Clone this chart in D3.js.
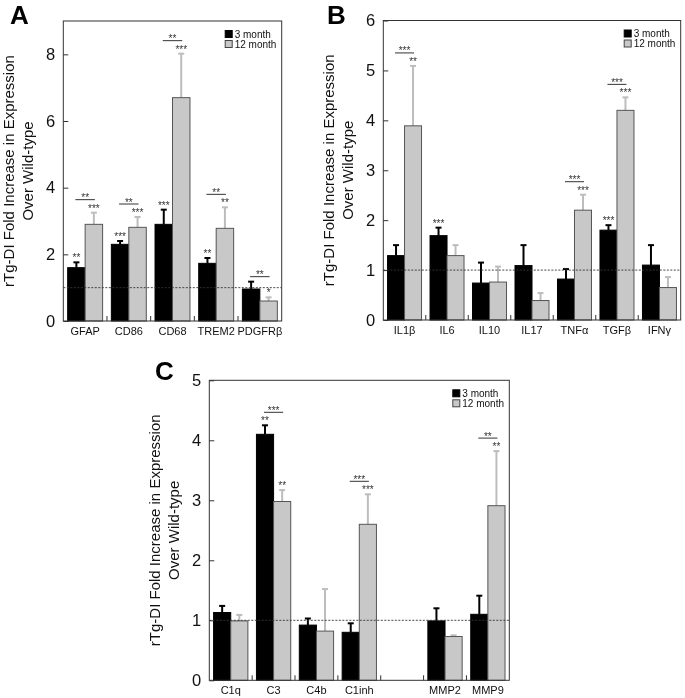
<!DOCTYPE html>
<html><head><meta charset="utf-8">
<script src="https://cdn.jsdelivr.net/npm/d3@7"></script>
<style>body{margin:0;background:#fff} svg{display:block; will-change: transform;}</style>
</head><body>
<svg id="chart" width="685" height="698"></svg>
<script>
// ---------- DATA ----------
const seriesNames = ["3 month", "12 month"];
const yTitle = ["rTg-DI Fold Increase in Expression", "Over Wild-type"];

// Panel A
const catsA = ["GFAP", "CD86", "CD68", "TREM2", "PDGFRβ"];
const meanA3 = [1.6, 2.3, 2.9, 1.73, 0.96];
const semA3 = [0.16, 0.1, 0.44, 0.16, 0.22];
const meanA12 = [2.9, 2.81, 6.7, 2.78, 0.6];
const semA12 = [0.35, 0.31, 1.32, 0.63, 0.11];
const starsA3 = ["**", "***", "***", "**", ""];
const starsA12 = ["***", "***", "***", "**", "*"];
const bracketA = ["**", "**", "**", "**", "**"];
const ticksA = [0, 2, 4, 6, 8];

// Panel B
const catsB = ["IL1β", "IL6", "IL10", "IL17", "TNFα", "TGFβ", "IFNγ"];
const meanB3 = [1.29, 1.69, 0.74, 1.09, 0.82, 1.8, 1.1];
const semB3 = [0.21, 0.16, 0.41, 0.41, 0.2, 0.1, 0.4];
const meanB12 = [3.89, 1.29, 0.76, 0.39, 2.2, 4.2, 0.65];
const semB12 = [1.2, 0.21, 0.31, 0.15, 0.31, 0.26, 0.21];
const starsB3 = ["", "***", "", "", "", "***", ""];
const starsB12 = ["**", "", "", "", "***", "***", ""];
const bracketB = ["***", "", "", "", "***", "***", ""];
const ticksB = [0, 1, 2, 3, 4, 5, 6];

// Panel C
const catsC = ["C1q", "C3", "C4b", "C1inh", "", "MMP2", "MMP9"];
const meanC3 = [1.13, 4.1, 0.92, 0.8, null, 0.99, 1.1];
const semC3 = [0.11, 0.15, 0.11, 0.15, null, 0.21, 0.31];
const meanC12 = [0.99, 2.98, 0.82, 2.6, null, 0.73, 2.91];
const semC12 = [0.1, 0.19, 0.7, 0.5, null, 0.02, 0.91];
const starsC3 = ["", "**", "", "", "", "", ""];
const starsC12 = ["", "**", "", "***", "", "", "**"];
const bracketC = ["", "***", "", "***", "", "", "**"];
const ticksC = [0, 1, 2, 3, 4, 5];

const referenceLevel = 1;

// ---------- DRAW ----------
const FONT = "'Liberation Sans', Arial, Helvetica, sans-serif";
const svg = d3.select("#chart").attr("font-family", FONT);

function drawPanel(p) {
  const g = svg.append("g");
  const x = d3.scaleBand().domain(d3.range(p.cats.length)).range([p.left, p.right]);
  const y = d3.scaleLinear().domain([0, p.yMax]).range([p.bottom, p.top]);
  const bw = x.bandwidth();
  const barW = bw * 0.4;
  const x3 = i => x(i) + bw * 0.1;
  const x12 = i => x(i) + bw * 0.5;

  const yAxis = d3.axisLeft(y).tickValues(p.ticks).tickSize(-5).tickPadding(8).tickFormat(d3.format("d"));
  const ax = g.append("g").attr("transform", `translate(${p.left},0)`).call(yAxis);
  ax.select(".domain").remove();
  ax.selectAll(".tick line").attr("stroke", "#333");
  ax.selectAll(".tick text").attr("font-size", 16.5).attr("fill", "#111").attr("font-family", FONT);

  const xAxis = d3.axisBottom(x).tickSize(0).tickPadding(6).tickFormat(i => p.cats[i]);
  const axx = g.append("g").attr("transform", `translate(0,${p.bottom})`).call(xAxis);
  axx.select(".domain").remove();
  axx.selectAll(".tick text").attr("font-size", 11).attr("fill", "#111").attr("font-family", FONT);

  g.selectAll(".sep").data(d3.range(1, p.cats.length)).join("line")
    .attr("x1", i => x(i)).attr("x2", i => x(i))
    .attr("y1", p.bottom).attr("y2", p.bottom - 5)
    .attr("stroke", "#333").attr("stroke-width", 1);

  const idx = d3.range(p.cats.length).filter(i => p.m3[i] != null);

  function errs(mean, sem, xf, color, w) {
    g.selectAll(null).data(idx).join("line")
      .attr("x1", i => xf(i) + barW / 2).attr("x2", i => xf(i) + barW / 2)
      .attr("y1", i => y(mean[i])).attr("y2", i => y(mean[i] + sem[i]))
      .attr("stroke", color).attr("stroke-width", w);
    g.selectAll(null).data(idx).join("line")
      .attr("x1", i => xf(i) + barW / 2 - 3).attr("x2", i => xf(i) + barW / 2 + 3)
      .attr("y1", i => y(mean[i] + sem[i])).attr("y2", i => y(mean[i] + sem[i]))
      .attr("stroke", color).attr("stroke-width", w);
  }
  errs(p.m3, p.s3, x3, "#000", 2);
  errs(p.m12, p.s12, x12, "#bdbdbd", 2);

  g.selectAll(null).data(idx).join("rect")
    .attr("x", i => x3(i)).attr("width", barW)
    .attr("y", i => y(p.m3[i])).attr("height", i => p.bottom - y(p.m3[i]))
    .attr("fill", "#000").attr("stroke", "#000").attr("stroke-width", 1);
  g.selectAll(null).data(idx).join("rect")
    .attr("x", i => x12(i)).attr("width", barW)
    .attr("y", i => y(p.m12[i])).attr("height", i => p.bottom - y(p.m12[i]))
    .attr("fill", "#c8c8c8").attr("stroke", "#555").attr("stroke-width", 1);

  g.append("line").attr("x1", p.left).attr("x2", p.right)
    .attr("y1", y(referenceLevel)).attr("y2", y(referenceLevel))
    .attr("stroke", "#333").attr("stroke-width", 0.9).attr("stroke-dasharray", "2,1.5");

  function stars(mean, sem, st, xf) {
    g.selectAll(null).data(idx.filter(i => st[i])).join("text")
      .attr("x", i => xf(i) + barW / 2).attr("y", i => y(mean[i] + sem[i]) - 1)
      .attr("text-anchor", "middle").attr("font-size", 10).attr("fill", "#333")
      .text(i => st[i]);
  }
  stars(p.m3, p.s3, p.st3, x3);
  stars(p.m12, p.s12, p.st12, x12);

  const topOf = (mean, sem, st, i) => y(mean[i] + sem[i]) - (st[i] ? 13 : 5);
  const bIdx = idx.filter(i => p.br[i]);
  const by = i => Math.min(topOf(p.m3, p.s3, p.st3, i), topOf(p.m12, p.s12, p.st12, i));
  g.selectAll(null).data(bIdx).join("line")
    .attr("x1", i => x3(i) + barW / 2 - 1).attr("x2", i => x12(i) + barW / 2 + 1)
    .attr("y1", by).attr("y2", by).attr("stroke", "#333").attr("stroke-width", 1);
  g.selectAll(null).data(bIdx).join("text")
    .attr("x", i => x(i) + bw / 2).attr("y", i => by(i) + 1.5)
    .attr("text-anchor", "middle").attr("font-size", 10).attr("fill", "#333")
    .text(i => p.br[i]);

  g.append("rect").attr("x", p.left).attr("y", p.top)
    .attr("width", p.right - p.left).attr("height", p.bottom - p.top)
    .attr("fill", "none").attr("stroke", "#333").attr("stroke-width", 1);

  const lg = g.append("g").attr("transform", `translate(${p.right - 57},${p.top + 9})`);
  seriesNames.forEach((s, k) => {
    lg.append("rect").attr("x", 0.5).attr("y", k * 10 + 0.5).attr("width", 7).attr("height", 7)
      .attr("fill", k === 0 ? "#000" : "#c8c8c8").attr("stroke", k === 0 ? "#000" : "#444").attr("stroke-width", 1);
    lg.append("text").attr("x", 10).attr("y", k * 10 + 7.5).attr("font-size", 10).attr("fill", "#111").text(s);
  });

  const cy = (p.top + p.bottom) / 2;
  yTitle.forEach((t, k) => {
    g.append("text")
      .attr("transform", `translate(${p.left - (k === 0 ? 55 : 36)},${cy}) rotate(-90)`)
      .attr("text-anchor", "middle").attr("dominant-baseline", "central")
      .attr("font-size", 15).attr("fill", "#111").text(t);
  });

  g.append("text").attr("x", p.lx).attr("y", p.ly)
    .attr("font-size", 26).attr("font-weight", "bold").attr("fill", "#000").text(p.letter);
}

drawPanel({ letter: "A", lx: 10, ly: 24, left: 63.3, right: 281.7, top: 21, bottom: 321, yMax: 9,
  ticks: ticksA, cats: catsA, m3: meanA3, s3: semA3, m12: meanA12, s12: semA12,
  st3: starsA3, st12: starsA12, br: bracketA });
drawPanel({ letter: "B", lx: 327, ly: 24, left: 383.3, right: 680.7, top: 20.5, bottom: 320, yMax: 6,
  ticks: ticksB, cats: catsB, m3: meanB3, s3: semB3, m12: meanB12, s12: semB12,
  st3: starsB3, st12: starsB12, br: bracketB });
drawPanel({ letter: "C", lx: 155, ly: 380, left: 209.3, right: 509.3, top: 380.3, bottom: 680.3, yMax: 5,
  ticks: ticksC, cats: catsC, m3: meanC3, s3: semC3, m12: meanC12, s12: semC12,
  st3: starsC3, st12: starsC12, br: bracketC });
</script>
</body></html>
